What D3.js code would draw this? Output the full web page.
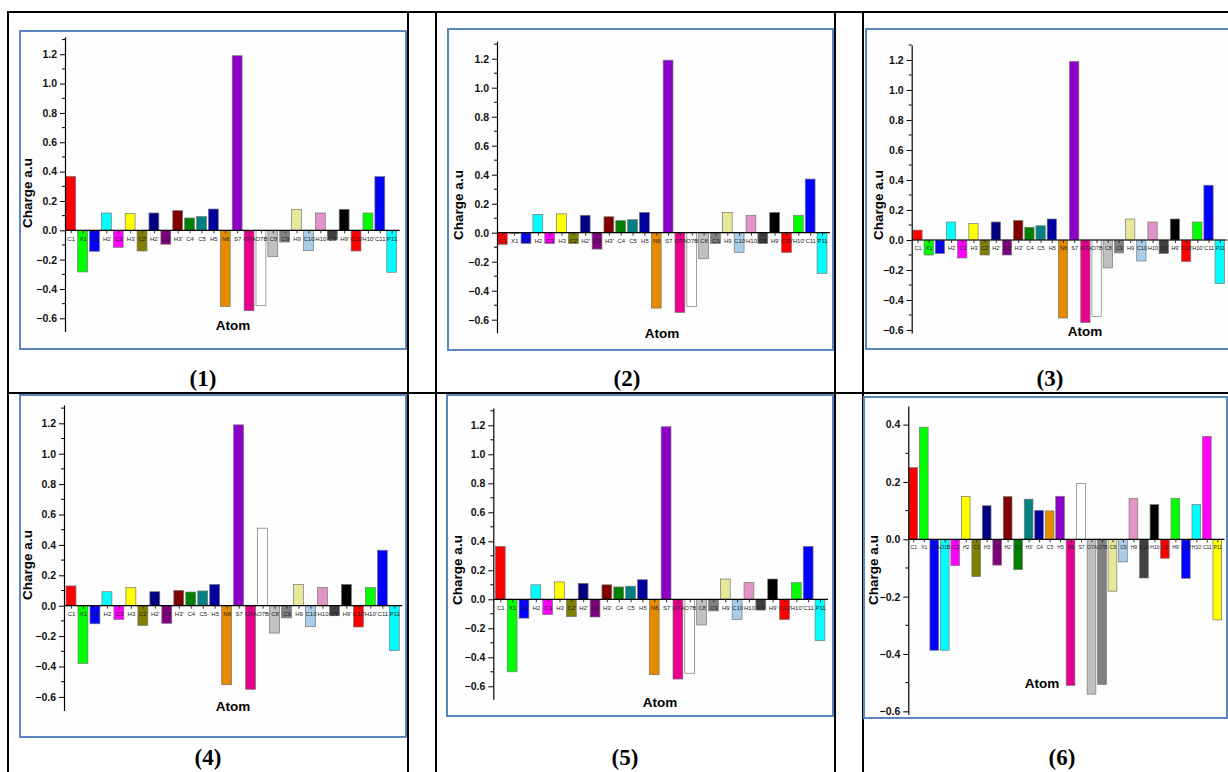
<!DOCTYPE html>
<html>
<head>
<meta charset="utf-8">
<script src="https://cdn.jsdelivr.net/npm/d3@7"></script>
<style>
  body { margin: 0; background: #fff; }
  svg { display: block; }
</style>
</head>
<body>
<svg id="chart" width="1228" height="772"></svg>
<script>
// atom labels
const atoms = ["C1","X1","C2","H2","C3","H3","C2'","H2'","C3'","H3'","C4","C5","H5","N6","S7","O7A","O7B","C8","C9","H9","C10","H10","C9'","H9'","C10'","H10'","C11","P11"];
const atoms6 = ["C1","X1","O1A","O1B","C2","H2","C3","H3","C2'","H2'","C3'","H3'","C4","C5","H5","N6","S7","O7A","O7B","C8","C9","H9","C10","H10","C9'","H9'","C10'","H10'","C11","P11"];

// charges (a.u) per compound
const charge1 = [0.368,-0.284,-0.143,0.118,-0.116,0.114,-0.141,0.118,-0.095,0.134,0.084,0.093,0.145,-0.52,1.19,-0.548,-0.514,-0.18,-0.08,0.143,-0.139,0.118,-0.066,0.143,-0.141,0.118,0.366,-0.286];
const charge2 = [-0.08,-0.005,-0.074,0.125,-0.074,0.13,-0.074,0.12,-0.113,0.11,0.083,0.09,0.14,-0.52,1.19,-0.55,-0.51,-0.18,-0.074,0.14,-0.136,0.12,-0.074,0.14,-0.136,0.12,0.37,-0.28];
const charge3 = [0.066,-0.10,-0.09,0.12,-0.12,0.11,-0.10,0.12,-0.10,0.13,0.085,0.095,0.14,-0.52,1.19,-0.55,-0.51,-0.186,-0.086,0.14,-0.14,0.12,-0.09,0.14,-0.143,0.12,0.365,-0.29];
const charge4 = [0.13,-0.38,-0.119,0.092,-0.09,0.12,-0.13,0.092,-0.116,0.10,0.09,0.097,0.14,-0.52,1.19,-0.55,0.51,-0.18,-0.08,0.14,-0.138,0.12,-0.066,0.14,-0.14,0.12,0.365,-0.294];
const charge5 = [0.365,-0.50,-0.13,0.10,-0.106,0.12,-0.12,0.11,-0.122,0.10,0.085,0.09,0.135,-0.52,1.19,-0.55,-0.51,-0.177,-0.08,0.14,-0.138,0.115,-0.074,0.14,-0.14,0.115,0.365,-0.285];
const charge6 = [0.25,0.391,-0.387,-0.387,-0.092,0.149,-0.13,0.117,-0.09,0.149,-0.106,0.14,0.101,0.099,0.15,-0.51,0.195,-0.54,-0.506,-0.181,-0.079,0.143,-0.135,0.121,-0.066,0.143,-0.136,0.121,0.359,-0.281];

const captions = ["(1)","(2)","(3)","(4)","(5)","(6)"];

// Origin-style colour cycle
const palette = ["#ff0000","#00ff00","#0000ff","#00ffff","#ff00ff","#ffff00","#808000","#000080",
  "#800080","#800000","#008000","#008080","#0000a0","#e68a00","#8c00c8","#e6008c","#ffffff",
  "#c0c0c0","#808080","#e8e89a","#a8cdea","#e294c8","#404040","#000000"];

const svg = d3.select('#chart');

// table grid
const grid = svg.append('g').attr('stroke', '#000').attr('stroke-width', 2);
grid.append('line').attr('x1', 7).attr('x2', 1228).attr('y1', 12).attr('y2', 12);
grid.append('line').attr('x1', 7).attr('x2', 1228).attr('y1', 393).attr('y2', 393);
[8, 408, 436, 835, 863].forEach(x => {
    grid.append('line').attr('x1', x).attr('x2', x).attr('y1', 11).attr('y2', 772);
});

const panels = [
    { atoms: atoms,  values: charge1, box: [20, 31, 406, 349], axisX: 65,    zeroY: 230.3, ppu: 146.7, lo: -0.69, hi: 1.32, first: 70.7,  last: 391.7,  ylab: [27, 193],  atom: [233, 325],  cap: [203, 386], fs: 6 },
    { atoms: atoms,  values: charge2, box: [448, 29, 833, 350], axisX: 497,  zeroY: 232.7, ppu: 145,   lo: -0.69, hi: 1.32, first: 502.3, last: 822,    ylab: [458, 205], atom: [662, 333],  cap: [627, 386], fs: 6 },
    { atoms: atoms,  values: charge3, box: [866, 29, 1234, 349], axisX: 911.7, zeroY: 240, ppu: 150,   lo: -0.62, hi: 1.3, first: 917.5, last: 1219.7, ylab: [878, 205], atom: [1085, 331], cap: [1050, 386], fs: 5.6 },
    { atoms: atoms,  values: charge4, box: [20, 395, 406, 737], axisX: 64,   zeroY: 605.7, ppu: 152,   lo: -0.69, hi: 1.32, first: 71,    last: 394.3,  ylab: [27, 565],  atom: [233, 706],  cap: [208, 765], fs: 6 },
    { atoms: atoms,  values: charge5, box: [447, 395, 833, 716], axisX: 493.3, zeroY: 599.3, ppu: 145, lo: -0.69, hi: 1.32, first: 500.3, last: 820,    ylab: [457, 570], atom: [660, 702],  cap: [625, 765], fs: 6 },
    { atoms: atoms6, values: charge6, box: [864, 397, 1227, 718], axisX: 908.3, zeroY: 539.3, ppu: 286.7, lo: -0.61, hi: 0.465, first: 913.3, last: 1217.3, ylab: [873, 570], atom: [1042, 683], cap: [1062, 765], fs: 5 }
];

panels.forEach((p, i) => {
    const g = svg.append('g');
    const [bx0, by0, bx1, by1] = p.box;

    // blue frame
    g.append('rect')
        .attr('x', bx0).attr('y', by0)
        .attr('width', bx1 - bx0).attr('height', by1 - by0)
        .attr('fill', '#fdfdfd')
        .attr('stroke', '#5b87c0')
        .attr('stroke-width', 2);

    const y = d3.scaleLinear()
        .domain([p.lo, p.hi])
        .range([p.zeroY - p.lo * p.ppu, p.zeroY - p.hi * p.ppu]);
    const x = d3.scalePoint()
        .domain(p.atoms)
        .range([p.first, p.last]);
    const step = x.step();
    const bw = step * 0.83;

    // bars
    g.append('g').selectAll('rect')
        .data(p.values.map((v, k) => ({ atom: p.atoms[k], v: v, c: palette[k % palette.length] })))
        .join('rect')
        .attr('x', d => x(d.atom) - bw / 2)
        .attr('width', bw)
        .attr('y', d => y(Math.max(0, d.v)))
        .attr('height', d => Math.abs(y(d.v) - y(0)))
        .attr('fill', d => d.c)
        .attr('stroke', '#777')
        .attr('stroke-width', 0.7);

    // x baseline with category ticks
    const xAxis = g.append('g')
        .attr('transform', `translate(0,${y(0)})`)
        .call(d3.axisBottom(x).tickSize(3).tickPadding(3));
    xAxis.select('.domain')
        .attr('d', `M${p.axisX},0H${p.last + step / 2 + 2}`)
        .attr('stroke', '#000').attr('stroke-width', 1.2);
    xAxis.selectAll('.tick line').attr('stroke', '#333');
    xAxis.selectAll('.tick text')
        .attr('font-family', 'Arial, "Liberation Sans", sans-serif')
        .attr('font-size', p.fs)
        .attr('fill', '#222');

    // y axis, major + minor ticks
    const major = d3.range(Math.ceil(p.lo / 0.2) * 0.2, p.hi + 1e-9, 0.2).map(v => +v.toFixed(1));
    const minor = d3.range(Math.ceil(p.lo / 0.1) * 0.1, p.hi + 1e-9, 0.1).map(v => +v.toFixed(1));
    const yAxis = g.append('g')
        .attr('transform', `translate(${p.axisX},0)`)
        .call(d3.axisLeft(y).tickValues(major).tickFormat(d3.format('.1f')).tickSize(5).tickSizeOuter(0).tickPadding(3));
    yAxis.select('.domain').attr('stroke', '#000').attr('stroke-width', 1.2);
    yAxis.selectAll('.tick text')
        .attr('font-family', 'Arial, "Liberation Sans", sans-serif')
        .attr('font-size', 10.5)
        .attr('font-weight', 'bold')
        .attr('fill', '#111');
    g.append('g').selectAll('line')
        .data(minor.filter(v => !major.some(m => Math.abs(m - v) < 1e-6)))
        .join('line')
        .attr('x1', p.axisX - 3).attr('x2', p.axisX)
        .attr('y1', d => y(d)).attr('y2', d => y(d))
        .attr('stroke', '#000');

    // axis titles
    g.append('text')
        .attr('transform', `translate(${p.ylab[0]},${p.ylab[1]}) rotate(-90)`)
        .attr('text-anchor', 'middle')
        .attr('dominant-baseline', 'central')
        .attr('font-family', 'Arial, "Liberation Sans", sans-serif')
        .attr('font-size', 13.5)
        .attr('font-weight', 'bold')
        .text('Charge a.u');
    g.append('text')
        .attr('x', p.atom[0]).attr('y', p.atom[1])
        .attr('text-anchor', 'middle')
        .attr('dominant-baseline', 'central')
        .attr('font-family', 'Arial, "Liberation Sans", sans-serif')
        .attr('font-size', 13.5)
        .attr('font-weight', 'bold')
        .text('Atom');

    // caption under the panel
    svg.append('text')
        .attr('x', p.cap[0]).attr('y', p.cap[1])
        .attr('text-anchor', 'middle')
        .attr('font-family', '"Liberation Serif", "Times New Roman", serif')
        .attr('font-size', 23)
        .attr('font-weight', 'bold')
        .text(captions[i]);
});
</script>
</body>
</html>
